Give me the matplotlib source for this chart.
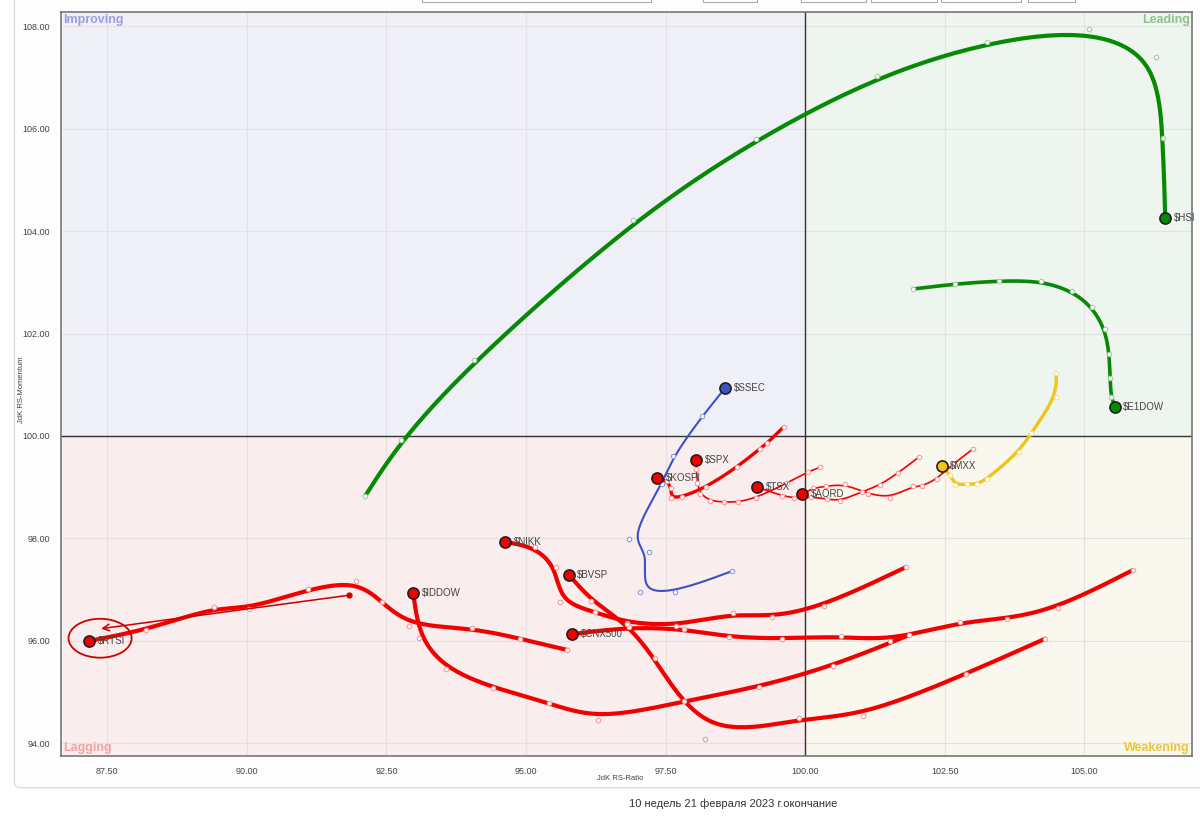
import matplotlib
matplotlib.use('Agg')
import matplotlib.pyplot as plt
from matplotlib.patches import Ellipse, Rectangle, FancyBboxPatch
import numpy as np

plt.rcParams['font.family'] = ['Liberation Sans', 'DejaVu Sans']

# Хвосты RRG: от первой недели к текущей (x = JdK RS-Ratio, y = JdK RS-Momentum)
hsi_x = [92.12, 92.76, 94.07, 96.92, 99.12, 101.29, 103.26, 105.09, 106.29, 106.41, 106.45]
hsi_y = [98.83, 99.92, 101.48, 104.22, 105.80, 107.03, 107.70, 107.95, 107.40, 105.82, 104.26]

e1dow_x = [101.93, 102.69, 103.47, 104.23, 104.78, 105.14, 105.37, 105.45, 105.46, 105.48, 105.55]
e1dow_y = [102.87, 102.97, 103.03, 103.03, 102.83, 102.52, 102.09, 101.60, 101.13, 100.76, 100.57]

mxx_x = [104.50, 104.50, 104.05, 103.83, 103.26, 103.08, 102.90, 102.69, 102.60, 102.45]
mxx_y = [101.23, 100.76, 100.06, 99.69, 99.16, 99.06, 99.06, 99.04, 99.24, 99.41]

ssec_x = [98.69, 97.67, 97.04, 97.21, 96.85, 97.44, 97.64, 98.16, 98.57]
ssec_y = [97.36, 96.95, 96.95, 97.73, 97.99, 99.06, 99.61, 100.39, 100.94]

kospi_x = [99.62, 99.32, 99.19, 98.78, 98.23, 97.80, 97.60, 97.60, 97.53, 97.35]
kospi_y = [100.18, 99.86, 99.75, 99.39, 99.00, 98.81, 98.79, 98.98, 99.12, 99.18]

spx_x = [100.27, 100.05, 99.68, 99.12, 98.80, 98.55, 98.30, 98.12, 98.07, 98.05, 98.05]
spx_y = [99.39, 99.30, 99.08, 98.79, 98.71, 98.71, 98.73, 98.87, 99.08, 99.36, 99.53]

tsx_x = [102.04, 101.67, 101.34, 101.02, 100.63, 100.39, 100.11, 99.80, 99.59, 99.14]
tsx_y = [99.59, 99.28, 99.04, 98.91, 98.73, 98.77, 98.81, 98.79, 98.83, 99.00]

aord_x = [103.01, 102.65, 102.36, 102.10, 101.93, 101.52, 101.13, 100.72, 100.38, 100.14, 99.95]
aord_y = [99.75, 99.45, 99.16, 99.02, 99.02, 98.79, 98.87, 99.06, 99.02, 98.98, 98.87]

rtsi_x = [95.74, 94.90, 94.04, 92.91, 92.42, 91.96, 91.10, 90.04, 89.41, 88.20, 87.18]
rtsi_y = [95.82, 96.04, 96.25, 96.29, 96.76, 97.17, 97.01, 96.62, 96.66, 96.21, 96.00]

iddow_x = [101.86, 100.50, 99.18, 97.83, 96.29, 95.41, 94.41, 93.57, 93.09, 92.98]
iddow_y = [96.11, 95.51, 95.10, 94.82, 94.45, 94.79, 95.08, 95.45, 96.05, 96.93]

cnx_x = [105.87, 104.53, 103.62, 102.78, 101.52, 100.64, 99.59, 98.64, 97.83, 96.85, 95.83]
cnx_y = [97.38, 96.64, 96.43, 96.37, 96.00, 96.09, 96.04, 96.07, 96.23, 96.27, 96.13]

nikk_x = [101.81, 100.34, 99.41, 98.71, 97.69, 96.81, 96.24, 95.61, 95.54, 95.16, 94.63]
nikk_y = [97.44, 96.68, 96.46, 96.54, 96.29, 96.35, 96.56, 96.76, 97.44, 97.83, 97.93]

bvsp_x = [104.30, 102.88, 101.04, 99.89, 98.21, 97.31, 96.81, 96.17, 95.77]
bvsp_y = [96.04, 95.35, 94.53, 94.49, 94.08, 95.66, 96.33, 96.78, 97.29]

# пометка вокруг $RTSI
arrow_from = (91.83, 96.89)
arrow_to = (87.34, 96.23)
ellipse_xy = (87.37, 96.05)
ellipse_w, ellipse_h = 1.13, 0.76

x_ticks = [87.5, 90.0, 92.5, 95.0, 97.5, 100.0, 102.5, 105.0]
y_ticks = [94, 96, 98, 100, 102, 104, 106, 108]

RED = '#f20000'
GREEN = '#068a06'
BLUE = '#3a52c6'
YELLOW = '#f0c419'

tails = [
    ('$HSI', hsi_x, hsi_y, GREEN, 3.0, '#9fd09f'),
    ('$E1DOW', e1dow_x, e1dow_y, GREEN, 2.6, '#9fd09f'),
    ('$MXX', mxx_x, mxx_y, YELLOW, 2.4, '#f7e08a'),
    ('$SSEC', ssec_x, ssec_y, BLUE, 1.5, '#8a9ae0'),
    ('$KOSPI', kospi_x, kospi_y, RED, 2.4, '#f59a9a'),
    ('$SPX', spx_x, spx_y, RED, 1.2, '#f59a9a'),
    ('$TSX', tsx_x, tsx_y, RED, 1.2, '#f59a9a'),
    ('$AORD', aord_x, aord_y, RED, 1.2, '#f59a9a'),
    ('$RTSI', rtsi_x, rtsi_y, RED, 3.0, '#f59a9a'),
    ('$IDDOW', iddow_x, iddow_y, RED, 3.0, '#f59a9a'),
    ('$CNX500', cnx_x, cnx_y, RED, 3.0, '#f59a9a'),
    ('$NIKK', nikk_x, nikk_y, RED, 3.0, '#f59a9a'),
    ('$BVSP', bvsp_x, bvsp_y, RED, 3.0, '#f59a9a'),
]


def bspline(xs, ys, n=24):
    # сглаживание хвоста кубическим B-сплайном с закреплёнными концами
    p = np.column_stack([xs, ys])
    p = np.vstack([p[0], p[0], p, p[-1], p[-1]])
    t = np.linspace(0, 1, n, endpoint=False)[:, None]
    b0 = (1 - t) ** 3 / 6
    b1 = (3 * t ** 3 - 6 * t ** 2 + 4) / 6
    b2 = (-3 * t ** 3 + 3 * t ** 2 + 3 * t + 1) / 6
    b3 = t ** 3 / 6
    out = []
    for i in range(len(p) - 3):
        out.append(b0 * p[i] + b1 * p[i + 1] + b2 * p[i + 2] + b3 * p[i + 3])
    out.append(p[-1][None])
    pts = np.vstack(out)
    return pts[:, 0], pts[:, 1]


fig = plt.figure(figsize=(12, 8.18), dpi=100)
fig.patch.set_facecolor('white')

# рамка контейнера
fig.patches.append(FancyBboxPatch((0.012, 0.037), 1.2, 1.2, boxstyle='round,pad=0,rounding_size=0.006',
                                  transform=fig.transFigure, fc='#fdfdfd', ec='#dddddd', lw=1, zorder=-5))
# обрезки полей ввода сверху
for x0, x1 in [(422, 651), (703, 757), (801, 866), (871, 937), (941, 1021), (1028, 1075)]:
    fig.patches.append(Rectangle((x0 / 1200, 1 - 2 / 818), (x1 - x0) / 1200, 0.02, transform=fig.transFigure,
                                 fc='white', ec='#aaaaaa', lw=0.8, zorder=-4))

ax = fig.add_axes([61 / 1200, 62 / 818, 1131 / 1200, 744 / 818])
ax.set_zorder(2)
xmin, xmax = 86.67, 106.93
ymin, ymax = 93.75, 108.28
ax.set_xlim(xmin, xmax)
ax.set_ylim(ymin, ymax)

# квадранты
ax.add_patch(Rectangle((xmin, 100), 100 - xmin, ymax - 100, fc='#efeff8', ec='none', zorder=0))
ax.add_patch(Rectangle((100, 100), xmax - 100, ymax - 100, fc='#eef4ee', ec='none', zorder=0))
ax.add_patch(Rectangle((xmin, ymin), 100 - xmin, 100 - ymin, fc='#f9eded', ec='none', zorder=0))
ax.add_patch(Rectangle((100, ymin), xmax - 100, 100 - ymin, fc='#faf7ef', ec='none', zorder=0))

ax.set_xticks(x_ticks)
ax.set_yticks(y_ticks)
ax.set_xticklabels([f'{v:.2f}' for v in x_ticks])
ax.set_yticklabels([f'{v:.2f}' for v in y_ticks])
ax.tick_params(length=0, labelsize=6.5, labelcolor='#444444')
ax.tick_params(axis='y', pad=8)
ax.tick_params(axis='x', pad=8)
ax.grid(True, color='#e2e2e2', lw=0.8, zorder=1)
ax.set_axisbelow(True)
for s in ax.spines.values():
    s.set_color('#777777')
    s.set_linewidth(1.2)

ax.axvline(100, color='#333333', lw=1, zorder=2)
ax.axhline(100, color='#333333', lw=1, zorder=2)

ax.text(0.002, 0.997, 'Improving', transform=ax.transAxes, ha='left', va='top',
        fontsize=9, fontweight='bold', color='#9c9ce6')
ax.text(0.998, 0.997, 'Leading', transform=ax.transAxes, ha='right', va='top',
        fontsize=9, fontweight='bold', color='#8cc48c')
ax.text(0.002, 0.003, 'Lagging', transform=ax.transAxes, ha='left', va='bottom',
        fontsize=9, fontweight='bold', color='#f4a3a3')
ax.text(0.998, 0.003, 'Weakening', transform=ax.transAxes, ha='right', va='bottom',
        fontsize=9, fontweight='bold', color='#ebc63c')

for name, xs, ys, col, lw, mcol in tails:
    sx, sy = bspline(xs, ys)
    ax.plot(sx, sy, color=col, lw=lw, solid_capstyle='round', zorder=4)
    ax.plot(xs[:-1], ys[:-1], 'o', ms=3.2, mfc='white', mec=mcol, mew=0.8, zorder=5)
    ax.plot(xs[-1], ys[-1], 'o', ms=8, mfc=col, mec='#202020', mew=1.2, zorder=6)
    ax.annotate(name.replace('$', r'\$'), (xs[-1], ys[-1]), xytext=(6, 0), textcoords='offset points',
                ha='left', va='center', fontsize=7, color='#444444', zorder=7)

# стрелка и овал
ax.annotate('', xy=arrow_to, xytext=arrow_from,
            arrowprops=dict(arrowstyle='->', color='#c80000', lw=1.1, mutation_scale=12), zorder=8)
ax.plot(*arrow_from, 'o', ms=3.5, color='#c80000', zorder=8)
ax.add_patch(Ellipse(ellipse_xy, ellipse_w, ellipse_h, fc='none', ec='#d00000', lw=1.3, zorder=8))

fig.text(620 / 1200, 1 - 778 / 818, 'JdK RS-Ratio', ha='center', va='center', fontsize=5.5, color='#444444')
fig.text(22 / 1200, 1 - 390 / 818, 'JdK RS-Momentum', ha='center', va='center', rotation=90,
         fontsize=5.5, color='#444444')
fig.text(733 / 1200, 1 - 804 / 818, '10 недель 21 февраля 2023 г.окончание', ha='center', va='center',
         fontsize=8, color='#333333')

fig.savefig('out.png', dpi=100)
